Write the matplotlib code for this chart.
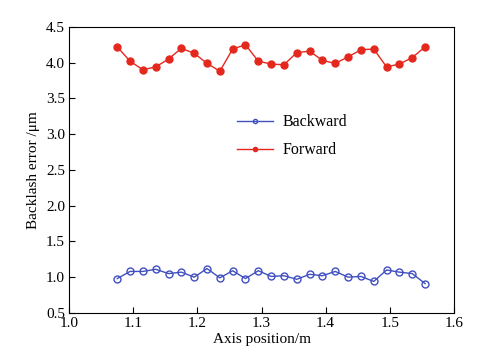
import numpy as np
import matplotlib
matplotlib.use("Agg")
import matplotlib.pyplot as plt

plt.rcParams['font.family'] = ['Liberation Serif', 'DejaVu Serif']
plt.rcParams['font.size'] = 11

# axis positions (m)
pos = [1.075, 1.095, 1.115, 1.135, 1.155, 1.175, 1.195, 1.215, 1.235,
       1.255, 1.275, 1.295, 1.315, 1.335, 1.355, 1.375, 1.395, 1.415,
       1.435, 1.455, 1.475, 1.495, 1.515, 1.535, 1.555]

backward = [0.98, 1.08, 1.08, 1.11, 1.05, 1.07, 1.00, 1.12, 0.99, 1.09,
            0.98, 1.09, 1.01, 1.02, 0.97, 1.04, 1.02, 1.08, 1.00, 1.01,
            0.94, 1.10, 1.07, 1.05, 0.91]

forward = [4.22, 4.02, 3.90, 3.94, 4.05, 4.20, 4.13, 3.99, 3.88, 4.19,
           4.25, 4.02, 3.98, 3.97, 4.14, 4.16, 4.03, 3.99, 4.08, 4.18,
           4.19, 3.94, 3.98, 4.07, 4.22]

fig = plt.figure(figsize=(5.01, 3.63), dpi=100)
ax = fig.add_axes([0.138, 0.138, 0.768, 0.788])

ax.plot(pos, backward, color="#4050c0", lw=1.0, marker="o", ms=5,
        mfc="none", mec="#4050c0", mew=1.0, label="Backward")
ax.plot(pos, forward, color="#e5281e", lw=1.0, marker="o", ms=5,
        mfc="#e5281e", mec="#e5281e", label="Forward")

ax.set_xlim(1.0, 1.6)
ax.set_ylim(0.5, 4.5)
ax.set_xticks(np.arange(1.0, 1.61, 0.1))
ax.set_yticks(np.arange(0.5, 4.51, 0.5))
ax.xaxis.set_major_formatter(matplotlib.ticker.FormatStrFormatter('%.1f'))
ax.yaxis.set_major_formatter(matplotlib.ticker.FormatStrFormatter('%.1f'))
ax.tick_params(direction="in", length=4, width=0.8, pad=3)

ax.set_xlabel("Axis position/m", labelpad=2)
ax.set_ylabel("Backlash error /\u03bcm", labelpad=4)

ax.legend(loc="upper left", bbox_to_anchor=(0.4, 0.745), frameon=False,
          handlelength=2.2, handletextpad=0.6, markerscale=0.6,
          labelspacing=0.75, fontsize=11.5)

plt.savefig("out.png", dpi=100)
